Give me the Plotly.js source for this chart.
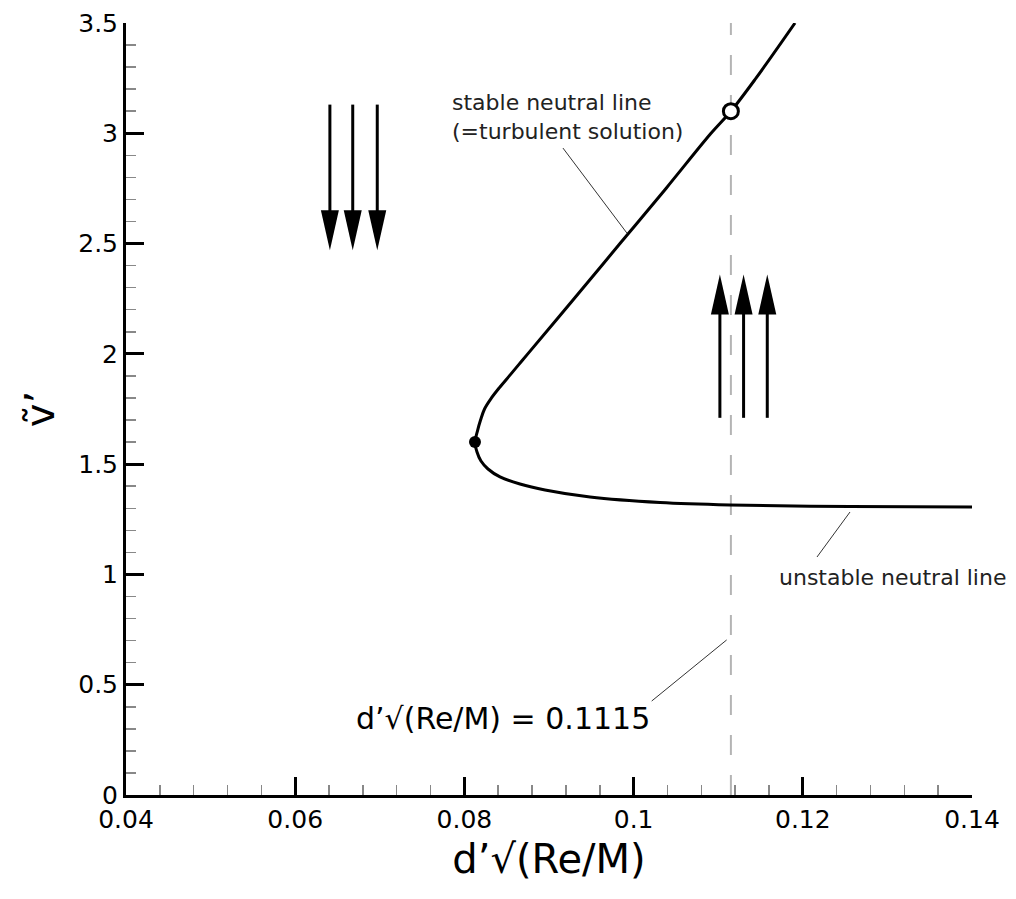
<!DOCTYPE html>
<html><head><meta charset="utf-8">
<script src="https://cdn.plot.ly/plotly-3.0.1.min.js"></script>
<style>html,body{margin:0;padding:0;background:#fff}#chart{width:1016px;height:899px}</style>
</head><body><div id="chart"></div>
<script>
// stable neutral line (upper branch, from top down to the turning point)
const upperX = [0.11908, 0.11447, 0.11150, 0.10915, 0.10383, 0.09839, 0.09296, 0.08749, 0.08640, 0.08531, 0.08421, 0.08320, 0.08238, 0.08191, 0.08154, 0.08125];
const upperY = [3.50, 3.25, 3.10, 3.00, 2.75, 2.50, 2.25, 2.00, 1.95, 1.90, 1.85, 1.80, 1.75, 1.70, 1.65, 1.60];
// unstable neutral line (lower branch, from the turning point to the right)
const lowerX = [0.08125, 0.08149, 0.08196, 0.08279, 0.08421, 0.08657, 0.08953, 0.09485, 0.10312, 0.11139, 0.12558, 0.14000];
const lowerY = [1.600, 1.555, 1.514, 1.478, 1.442, 1.410, 1.383, 1.351, 1.326, 1.315, 1.308, 1.306];
// special points
const noseX = [0.08125], noseY = [1.60];
const turbX = [0.1115], turbY = [3.10];
// vertical reference line d'sqrt(Re/M) = 0.1115
const refX = [0.1115, 0.1115], refY = [0, 3.5];
// flow arrows
const downArrowX = [0.0641, 0.0668, 0.0697];
const downTail = 3.13, downTip = 2.47;
const upArrowX = [0.1102, 0.1130, 0.1158];
const upTail = 1.71, upTip = 2.36;
// labels
const labelText = ['stable neutral line<br>(=turbulent solution)', 'unstable neutral line', 'd’√(Re/M) = 0.1115'];
const labelX = [0.0783, 0.1170, 0.0670];
const labelY = [3.074, 0.988, 0.349];
// leader lines
const leaderX0 = [0.09165, 0.12168, 0.10214];
const leaderY0 = [2.933, 1.079, 0.426];
const leaderX1 = [0.0992, 0.12558, 0.1110];
const leaderY1 = [2.548, 1.283, 0.703];
// ticks
const xTicks = [0.04, 0.06, 0.08, 0.1, 0.12, 0.14];
const yTicks = [0, 0.5, 1, 1.5, 2, 2.5, 3, 3.5];

const FONT = 'DejaVu Sans, sans-serif';
const curveX = upperX.concat(lowerX.slice(1));
const curveY = upperY.concat(lowerY.slice(1));

const traces = [
  {x: refX, y: refY, mode: 'lines', line: {color: '#b4b4b4', width: 2, dash: '20px,20px'}, hoverinfo: 'skip', showlegend: false},
  {x: curveX, y: curveY, mode: 'lines', line: {color: '#000', width: 3, shape: 'spline', smoothing: 1}, showlegend: false},
  {x: noseX, y: noseY, mode: 'markers', marker: {size: 12, color: '#000'}, showlegend: false},
  {x: turbX, y: turbY, mode: 'markers', marker: {size: 15, color: '#fff', line: {color: '#000', width: 3}}, showlegend: false}
];

const shapes = [];
function addArrow(x, tail, tip, down) {
  shapes.push({type: 'line', xref: 'x', yref: 'y', x0: x, x1: x, y0: tail, y1: down ? tip + 0.1 : tip - 0.1,
    line: {color: '#000', width: 3}});
  shapes.push({type: 'path', xref: 'x', yref: 'y', xsizemode: 'pixel', ysizemode: 'pixel',
    xanchor: x, yanchor: tip,
    path: down ? 'M-9,40 L9,40 L0,0 Z' : 'M-9,-40 L9,-40 L0,0 Z',
    fillcolor: '#000', line: {width: 0}});
}
downArrowX.forEach(x => addArrow(x, downTail, downTip, true));
upArrowX.forEach(x => addArrow(x, upTail, upTip, false));
for (let i = 0; i < leaderX0.length; i++) {
  shapes.push({type: 'line', xref: 'x', yref: 'y', x0: leaderX0[i], y0: leaderY0[i], x1: leaderX1[i], y1: leaderY1[i],
    line: {color: '#333', width: 1}});
}

const annotations = labelText.map((t, i) => ({
  text: t, x: labelX[i], y: labelY[i], xref: 'x', yref: 'y', showarrow: false,
  xanchor: 'left', yanchor: 'middle', align: 'left',
  font: {family: FONT, size: i === 2 ? 30 : 22, color: i === 2 ? '#000' : '#222'}
}));

const axisCommon = {
  ticks: 'inside', ticklen: 18, tickwidth: 3, tickcolor: '#000',
  showline: true, linewidth: 3, linecolor: '#000', mirror: false,
  showgrid: false, zeroline: false,
  tickfont: {family: FONT, size: 25, color: '#000'}
};

const layout = {
  width: 1016, height: 899,
  margin: {l: 126, r: 44, t: 23, b: 104},
  paper_bgcolor: '#fff', plot_bgcolor: '#fff',
  showlegend: false,
  xaxis: Object.assign({}, axisCommon, {
    range: [0.04, 0.14], tickmode: 'array', tickvals: xTicks,
    ticktext: xTicks.map(String),
    minor: {dtick: 0.004, tick0: 0.04, ticks: 'inside', ticklen: 10, tickwidth: 1.5, tickcolor: '#888', showgrid: false},
    title: {text: 'd’√(Re/M)', font: {family: FONT, size: 40, color: '#000'}, standoff: 12}
  }),
  yaxis: Object.assign({}, axisCommon, {
    range: [0, 3.5], tickmode: 'array', tickvals: yTicks,
    ticktext: yTicks.map(String),
    minor: {dtick: 0.1, tick0: 0, ticks: 'inside', ticklen: 10, tickwidth: 1.5, tickcolor: '#888', showgrid: false},
    title: {text: 'ṽ’', font: {family: FONT, size: 40, color: '#000'}, standoff: 12}
  }),
  shapes: shapes,
  annotations: annotations
};

Plotly.newPlot('chart', traces, layout, {displayModeBar: false, staticPlot: true});
</script>
</body></html>
